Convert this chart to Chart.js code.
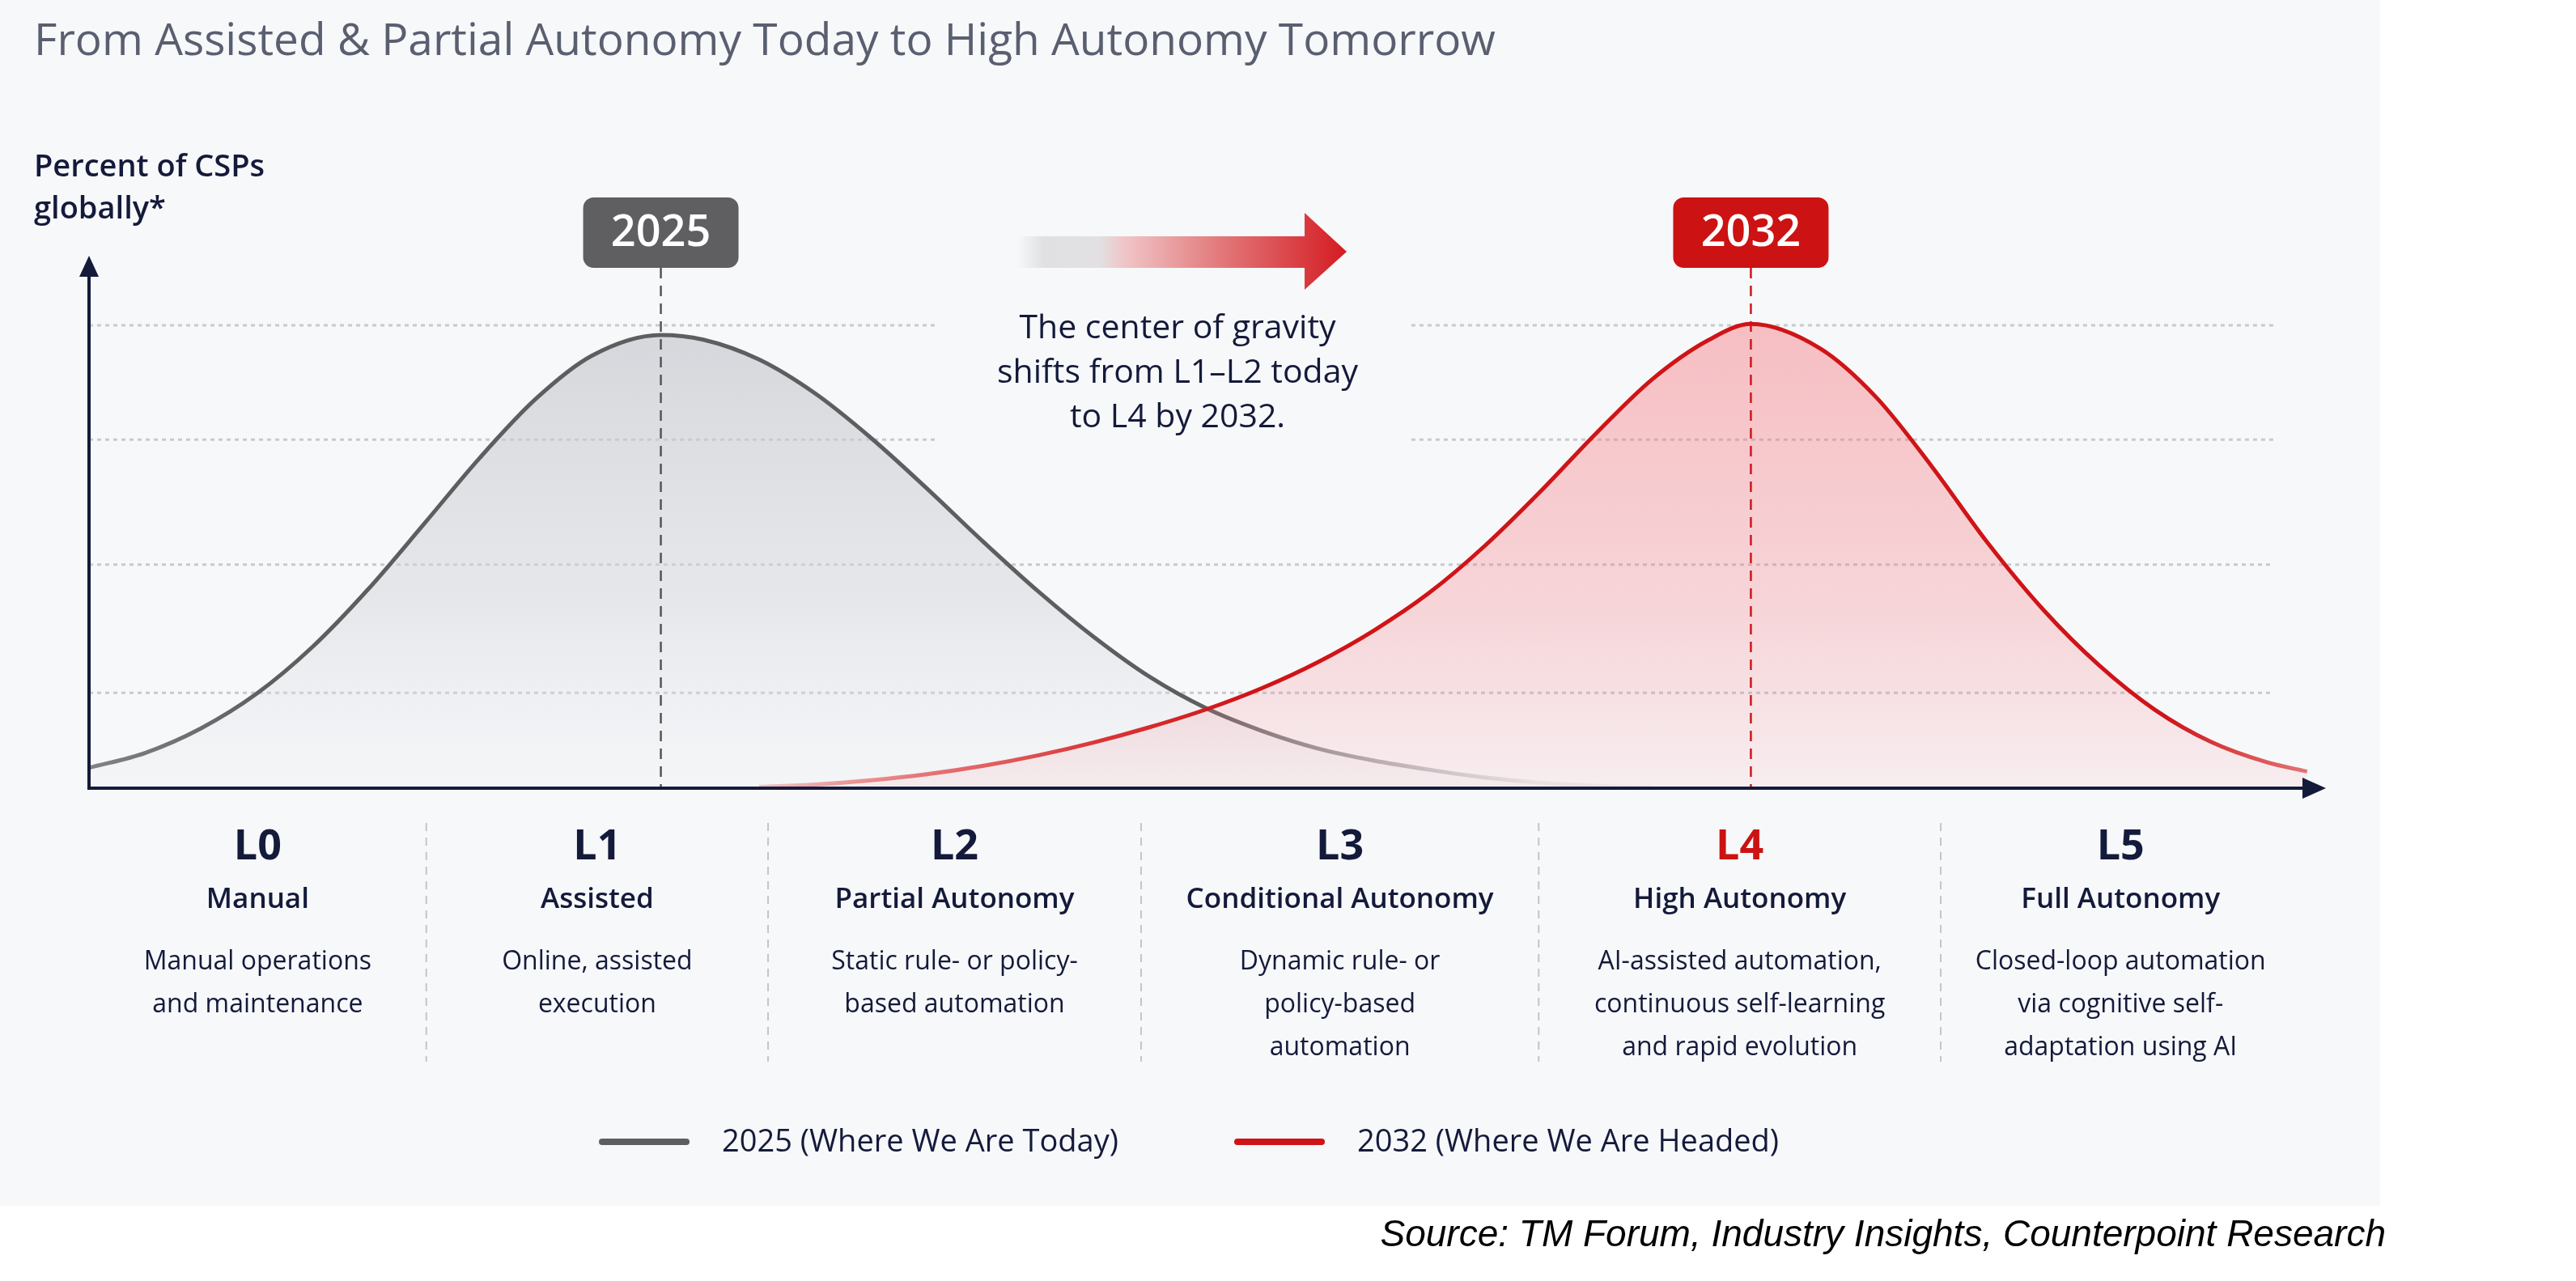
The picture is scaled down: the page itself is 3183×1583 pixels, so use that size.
<!DOCTYPE html>
<html><head><meta charset="utf-8">
<script src="https://cdn.jsdelivr.net/npm/chart.js@4.4.1/dist/chart.umd.min.js"></script>
<style>html,body{margin:0;padding:0;background:#fff;}canvas{display:block;}</style>
</head><body>
<canvas id="c" width="3183" height="1583" style="width:3183px;height:1583px"></canvas>
<script>
// ---------------- data ----------------
const title = "From Assisted & Partial Autonomy Today to High Autonomy Tomorrow";
const yAxisLabel = ["Percent of CSPs", "globally*"];
const levelCodes = ["L0", "L1", "L2", "L3", "L4", "L5"];
const levelNames = ["Manual", "Assisted", "Partial Autonomy", "Conditional Autonomy", "High Autonomy", "Full Autonomy"];
const levelDescriptions = [
  ["Manual operations", "and maintenance"],
  ["Online, assisted", "execution"],
  ["Static rule- or policy-", "based automation"],
  ["Dynamic rule- or", "policy-based", "automation"],
  ["AI-assisted automation,", "continuous self-learning", "and rapid evolution"],
  ["Closed-loop automation", "via cognitive self-", "adaptation using AI"]
];
// span of each level along the horizontal axis (axis units 0-100)
const levelEdges = [0, 15.1, 30.4, 47.1, 64.9, 82.9, 99.0];
const gridValues = [20.6, 48.3, 75.3, 100];
const seriesLabels = ["2025 (Where We Are Today)", "2032 (Where We Are Headed)"];
const peakTags = ["2025", "2032"];
const highlightLevel = "L4";
const note = ["The center of gravity", "shifts from L1\u2013L2 today", "to L4 by 2032."];
const source = "Source: TM Forum, Industry Insights, Counterpoint Research";

const gray2025X = [0, 2.5, 5, 7.5, 10, 12.5, 15, 17.5, 20, 22.5, 25.6, 27.5, 30, 32.5, 35, 37.5, 40, 42.5, 45, 47.5, 50, 52.5, 55, 57.5, 60, 62.5, 65, 67.5, 70];
const gray2025Y = [4.4, 7.6, 12.9, 20.4, 30.5, 43.0, 57.1, 71.4, 84.1, 93.4, 97.9, 96.9, 92.6, 85.3, 75.7, 64.8, 53.4, 42.5, 32.6, 24.0, 17.3, 12.4, 8.6, 6.0, 4.0, 2.3, 1.2, 0.5, 0.1];
const red2032X = [30, 32.5, 35, 37.5, 40, 42.5, 45, 47.5, 50, 52.5, 55, 57.5, 60, 62.5, 65, 67.5, 70, 72.5, 74.4, 77.5, 80, 82.5, 85, 87.5, 90, 92.5, 95, 97.5, 99.3];
const red2032Y = [0.3, 0.8, 1.7, 3.0, 4.8, 7.1, 9.9, 13.2, 17.0, 21.6, 27.2, 34.0, 42.2, 52.4, 64.2, 76.8, 88.4, 96.8, 100.3, 95.0, 84.5, 69.5, 53.0, 38.5, 26.5, 16.9, 10.0, 5.6, 3.6];

// ---------------- style ----------------
const F = 'Open Sans';
const NAVY = '#141a3a';
const GRAY = '#5e5e61';
const RED = '#cf1417';

function peakOf(xs, ys) { let k = 0; ys.forEach((v, i) => { if (v > ys[k]) k = i; }); return xs[k]; }

function grayStroke(ctx) {
  const ch = ctx.chart, xs = ch.scales.x;
  if (!ch.chartArea || !xs) return GRAY;
  const g = ch.ctx.createLinearGradient(xs.getPixelForValue(0), 0, xs.getPixelForValue(100), 0);
  g.addColorStop(0, 'rgba(110,110,114,0.85)');
  g.addColorStop(0.08, 'rgba(94,94,97,1)');
  g.addColorStop(0.50, 'rgba(94,94,97,1)');
  g.addColorStop(0.57, 'rgba(125,125,130,0.6)');
  g.addColorStop(0.65, 'rgba(150,150,155,0.12)');
  g.addColorStop(1, 'rgba(150,150,155,0)');
  return g;
}
function redStroke(ctx) {
  const ch = ctx.chart, xs = ch.scales.x;
  if (!ch.chartArea || !xs) return RED;
  const g = ch.ctx.createLinearGradient(xs.getPixelForValue(0), 0, xs.getPixelForValue(100), 0);
  g.addColorStop(0.30, 'rgba(228,80,80,0.3)');
  g.addColorStop(0.37, 'rgba(224,70,70,0.7)');
  g.addColorStop(0.45, 'rgba(214,40,40,0.92)');
  g.addColorStop(0.52, 'rgba(207,20,23,1)');
  g.addColorStop(0.93, 'rgba(207,20,23,1)');
  g.addColorStop(1, 'rgba(222,85,85,0.75)');
  return g;
}
function grayFill(ctx) {
  const ch = ctx.chart, ys = ch.scales.y;
  if (!ch.chartArea || !ys) return 'rgba(200,200,205,0.4)';
  const g = ch.ctx.createLinearGradient(0, ys.getPixelForValue(100), 0, ys.getPixelForValue(0));
  g.addColorStop(0, 'rgba(198,199,205,0.68)');
  g.addColorStop(0.6, 'rgba(210,211,216,0.45)');
  g.addColorStop(1, 'rgba(225,226,230,0.12)');
  return g;
}
function redFill(ctx) {
  const ch = ctx.chart, ys = ch.scales.y;
  if (!ch.chartArea || !ys) return 'rgba(245,110,118,0.3)';
  const g = ch.ctx.createLinearGradient(0, ys.getPixelForValue(100), 0, ys.getPixelForValue(0));
  g.addColorStop(0, 'rgba(245,110,118,0.42)');
  g.addColorStop(0.6, 'rgba(245,110,118,0.26)');
  g.addColorStop(1, 'rgba(245,110,118,0.08)');
  return g;
}

function roundRect(c, x, y, w, h, r) {
  c.beginPath();
  c.moveTo(x + r, y);
  c.arcTo(x + w, y, x + w, y + h, r);
  c.arcTo(x + w, y + h, x, y + h, r);
  c.arcTo(x, y + h, x, y, r);
  c.arcTo(x, y, x + w, y, r);
  c.closePath();
}

const deco = {
  id: 'deco',
  beforeDraw(chart) {
    const c = chart.ctx, xs = chart.scales.x, ys = chart.scales.y;
    c.save();
    c.fillStyle = '#ffffff'; c.fillRect(0, 0, chart.width, chart.height);
    c.fillStyle = '#f7f8fa'; c.fillRect(0, 0, 2941, 1490);
    c.textBaseline = 'alphabetic'; c.textAlign = 'left';
    c.fillStyle = '#5a5f70'; c.font = `500 55px "${F}"`;
    c.fillText(title, 42, 68);
    c.fillStyle = NAVY; c.font = `600 38px "${F}"`;
    c.fillText(yAxisLabel[0], 42, 218);
    c.fillText(yAxisLabel[1], 42, 270);
    // dotted gridlines (top ones interrupted by the note)
    c.strokeStyle = '#c8cad0'; c.lineWidth = 3; c.setLineDash([5, 5]);
    gridValues.forEach(v => {
      const y = ys.getPixelForValue(v);
      const segs = v > 70 ? [[0, 37.9], [59.2, 97.8]] : [[0, 97.8]];
      segs.forEach(([s, e]) => {
        c.beginPath(); c.moveTo(xs.getPixelForValue(s), y); c.lineTo(xs.getPixelForValue(e), y); c.stroke();
      });
    });
    c.restore();
  },
  afterDatasetsDraw(chart) {
    const c = chart.ctx, xs = chart.scales.x, ys = chart.scales.y;
    const y0 = ys.getPixelForValue(0);
    c.save();
    // peak markers
    const peaks = [
      { x: peakOf(gray2025X, gray2025Y), line: '#555558', box: '#5f5f62', tag: peakTags[0] },
      { x: peakOf(red2032X, red2032Y), line: '#d0161a', box: '#cc1212', tag: peakTags[1] }
    ];
    peaks.forEach(p => {
      const px = xs.getPixelForValue(p.x);
      c.setLineDash([13, 9]); c.lineWidth = 2.5; c.strokeStyle = p.line;
      c.beginPath(); c.moveTo(px, 331); c.lineTo(px, y0); c.stroke();
      c.setLineDash([]);
      c.fillStyle = p.box;
      roundRect(c, px - 96, 244, 192, 87, 13); c.fill();
      c.fillStyle = '#ffffff'; c.font = `600 54px "${F}"`;
      c.textAlign = 'center'; c.textBaseline = 'middle';
      c.fillText(p.tag, px, 289);
    });
    // axes
    const left = xs.getPixelForValue(0);
    c.setLineDash([]);
    c.strokeStyle = NAVY; c.fillStyle = NAVY; c.lineWidth = 4;
    c.beginPath(); c.moveTo(left, y0); c.lineTo(left, 330); c.stroke();
    c.beginPath(); c.moveTo(left, 316); c.lineTo(left - 12, 342); c.lineTo(left + 12, 342); c.closePath(); c.fill();
    c.beginPath(); c.moveTo(left - 2, y0); c.lineTo(2858, y0); c.stroke();
    c.beginPath(); c.moveTo(2874, y0); c.lineTo(2845, y0 - 13); c.lineTo(2845, y0 + 13); c.closePath(); c.fill();
    // shift arrow
    const g = c.createLinearGradient(1257, 0, 1663, 0);
    g.addColorStop(0, 'rgba(222,222,225,0)');
    g.addColorStop(0.08, 'rgba(222,222,225,0.9)');
    g.addColorStop(0.25, 'rgba(226,224,226,1)');
    g.addColorStop(0.33, 'rgba(240,196,198,1)');
    g.addColorStop(0.62, 'rgba(226,120,122,1)');
    g.addColorStop(1, 'rgba(212,28,34,1)');
    c.fillStyle = g;
    c.beginPath();
    c.moveTo(1257, 292); c.lineTo(1612, 292); c.lineTo(1612, 263); c.lineTo(1664, 311);
    c.lineTo(1612, 358); c.lineTo(1612, 331); c.lineTo(1257, 331); c.closePath(); c.fill();
    // note
    c.fillStyle = NAVY; c.font = `500 41px "${F}"`; c.textAlign = 'center'; c.textBaseline = 'alphabetic';
    note.forEach((t, i) => c.fillText(t, 1455, 418 + i * 55));
    // level labels
    for (let i = 0; i < levelCodes.length; i++) {
      const cx = (xs.getPixelForValue(levelEdges[i]) + xs.getPixelForValue(levelEdges[i + 1])) / 2;
      c.textAlign = 'center'; c.textBaseline = 'alphabetic';
      c.fillStyle = levelCodes[i] === highlightLevel ? '#cc1212' : NAVY;
      c.font = `700 52px "${F}"`;
      c.fillText(levelCodes[i], cx, 1062);
      c.fillStyle = NAVY;
      c.font = `600 35px "${F}"`;
      c.fillText(levelNames[i], cx, 1122);
      c.font = `400 32px "${F}"`;
      levelDescriptions[i].forEach((t, k) => c.fillText(t, cx, 1198 + k * 53));
    }
    // separators
    c.strokeStyle = '#c3c5cb'; c.lineWidth = 2; c.setLineDash([10, 8]);
    for (let i = 1; i < levelEdges.length - 1; i++) {
      const x = xs.getPixelForValue(levelEdges[i]);
      c.beginPath(); c.moveTo(x, 1017); c.lineTo(x, 1312); c.stroke();
    }
    c.setLineDash([]);
    // legend
    const legend = [
      { x: 740, color: '#5e5e61', label: chart.data.datasets[0].label },
      { x: 1525, color: '#cf1417', label: chart.data.datasets[1].label }
    ];
    legend.forEach(l => {
      c.strokeStyle = l.color; c.lineWidth = 8; c.lineCap = 'round';
      c.beginPath(); c.moveTo(l.x + 4, 1411); c.lineTo(l.x + 108, 1411); c.stroke();
      c.lineCap = 'butt';
      c.fillStyle = NAVY; c.font = `500 38px "${F}"`; c.textAlign = 'left'; c.textBaseline = 'middle';
      c.fillText(l.label, l.x + 152, 1412);
    });
    // source
    c.fillStyle = '#000000'; c.font = `italic 400 46px "Liberation Sans"`;
    c.textAlign = 'right'; c.textBaseline = 'alphabetic';
    c.fillText(source, 2948, 1540);
    c.restore();
  }
};

function build() {
  new Chart(document.getElementById('c'), {
    type: 'line',
    data: {
      datasets: [
        {
          label: seriesLabels[0],
          data: gray2025X.map((x, i) => ({ x, y: gray2025Y[i] })),
          borderColor: grayStroke, backgroundColor: grayFill, fill: 'origin',
          borderWidth: 5, pointRadius: 0, cubicInterpolationMode: 'monotone', order: 2
        },
        {
          label: seriesLabels[1],
          data: red2032X.map((x, i) => ({ x, y: red2032Y[i] })),
          borderColor: redStroke, backgroundColor: redFill, fill: 'origin',
          borderWidth: 5, pointRadius: 0, cubicInterpolationMode: 'monotone', order: 1
        }
      ]
    },
    options: {
      responsive: false, animation: false, devicePixelRatio: 1,
      layout: { padding: { left: 110, right: 313, top: 333, bottom: 609 } },
      scales: {
        x: { type: 'linear', min: 0, max: 100, display: false },
        y: { type: 'linear', min: 0, max: 112.06, display: false }
      },
      plugins: { legend: { display: false }, tooltip: { enabled: false } }
    },
    plugins: [deco]
  });
}
Promise.all([
  document.fonts.load(`500 55px "${F}"`), document.fonts.load(`600 38px "${F}"`),
  document.fonts.load(`700 52px "${F}"`), document.fonts.load(`400 32px "${F}"`),
  document.fonts.load(`italic 46px "Liberation Sans"`)
]).then(build, build);
</script>
</body></html>
